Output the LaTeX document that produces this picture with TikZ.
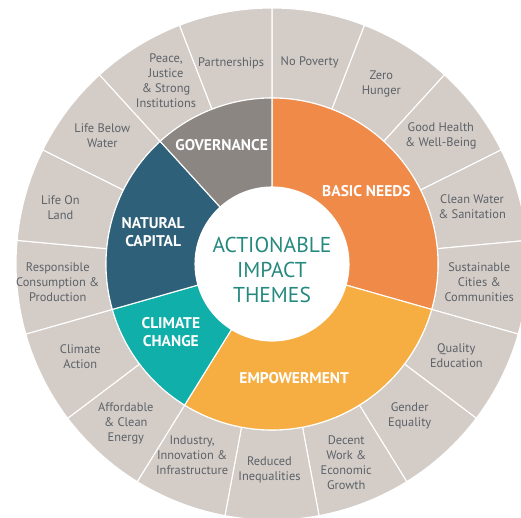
\documentclass[tikz,border=0pt]{standalone}
\usepackage{fontspec}
\setmainfont{PT Sans}
\definecolor{outerc}{HTML}{D4CCC6}
\definecolor{basicc}{HTML}{F08A49}
\definecolor{empc}{HTML}{F6AE43}
\definecolor{climc}{HTML}{10AFA9}
\definecolor{natc}{HTML}{2E6179}
\definecolor{govc}{HTML}{8B8682}
\definecolor{txtc}{HTML}{5C6269}
\definecolor{centc}{HTML}{26897F}
\begin{document}
\begin{tikzpicture}[x=1pt,y=1pt,
  sdg/.style={font=\fontsize{12.4}{15}\selectfont, text=txtc, align=center, inner sep=0pt},
  theme/.style={font=\fontsize{15.5}{18}\selectfont\bfseries, text=white, align=center, inner sep=0pt},
  seg/.style={draw=white, line width=1.1pt, line join=miter}]
\clip (0,0) rectangle (521,517);
\fill[white] (0,0) rectangle (521,517);
\begin{scope}[shift={(272,253)}]
\pgfmathsetmacro{\st}{360/17}
% outer ring of 17 segments
\foreach \k in {0,...,16}{
  \pgfmathsetmacro{\aa}{90-\k*\st}
  \pgfmathsetmacro{\ab}{90-(\k+1)*\st}
  \filldraw[seg, fill=outerc] (\aa:166) -- (\aa:256) arc[start angle=\aa, end angle=\ab, radius=256] -- (\ab:166) arc[start angle=\ab, end angle=\aa, radius=166] -- cycle;
}
% inner themes
\newcommand{\themesector}[3]{%
  \filldraw[seg, fill=#3] (#1:77) -- (#1:166) arc[start angle=#1, end angle=#2, radius=166] -- (#2:77) arc[start angle=#2, end angle=#1, radius=77] -- cycle;}
\themesector{90}{-15.882}{basicc}
\themesector{-15.882}{-121.765}{empc}
\themesector{238.235}{195.882}{climc}
\themesector{195.882}{132.353}{natc}
\themesector{132.353}{90}{govc}
\fill[white] (0,0) circle[radius=77];
% theme labels
\node[theme] (basic) at (37.5:119) {BASIC NEEDS};
\node[theme] (emp) at (-79:116) {EMPOWERMENT};
\node[theme] (clim) at (214:122) {CLIMATE\\CHANGE};
\node[theme] (nat) at (165:123) {NATURAL\\CAPITAL};
\node[theme] (gov) at (113:129) {GOVERNANCE};
% centre
\node[font=\fontsize{21.5}{25}\selectfont, text=centc, align=center, inner sep=0pt] (centre) at (0,-6) {ACTIONABLE\\IMPACT\\THEMES};
% SDG labels
\node[sdg] (s1) at (79.4:205) {No Poverty};
\node[sdg] (s2) at (58.8:211) {Zero\\Hunger};
\node[sdg] (s3) at (37.2:212) {Good Health\\\& Well-Being};
\node[sdg] (s4) at (15.9:208) {Clean Water\\\& Sanitation};
\node[sdg] (s5) at (355:208) {Sustainable\\Cities \&\\Communities};
\node[sdg] (s6) at (333.5:206) {Quality\\Education};
\node[sdg] (s7) at (312.2:205) {Gender\\Equality};
\node[sdg] (s8) at (290.5:212) {Decent\\Work \&\\Economic\\Growth};
\node[sdg] (s9) at (269.3:206) {Reduced\\Inequalities};
\node[sdg] (s10) at (247.3:207) {Industry,\\Innovation \&\\Infrastructure};
\node[sdg] (s11) at (227.4:216) {Affordable\\\& Clean\\Energy};
\node[sdg] (s12) at (205.8:213) {Climate\\Action};
\node[sdg] (s13) at (184.8:215) {Responsible\\Consumption \&\\Production};
\node[sdg] (s14) at (165:219) {Life On\\Land};
\node[sdg] (s15) at (142.8:213) {Life Below\\Water};
\node[sdg] (s16) at (120:212) {Peace,\\Justice\\\& Strong\\Institutions};
\node[sdg] (s17) at (101.5:205) {Partnerships};
\end{scope}
\end{tikzpicture}
\end{document}
